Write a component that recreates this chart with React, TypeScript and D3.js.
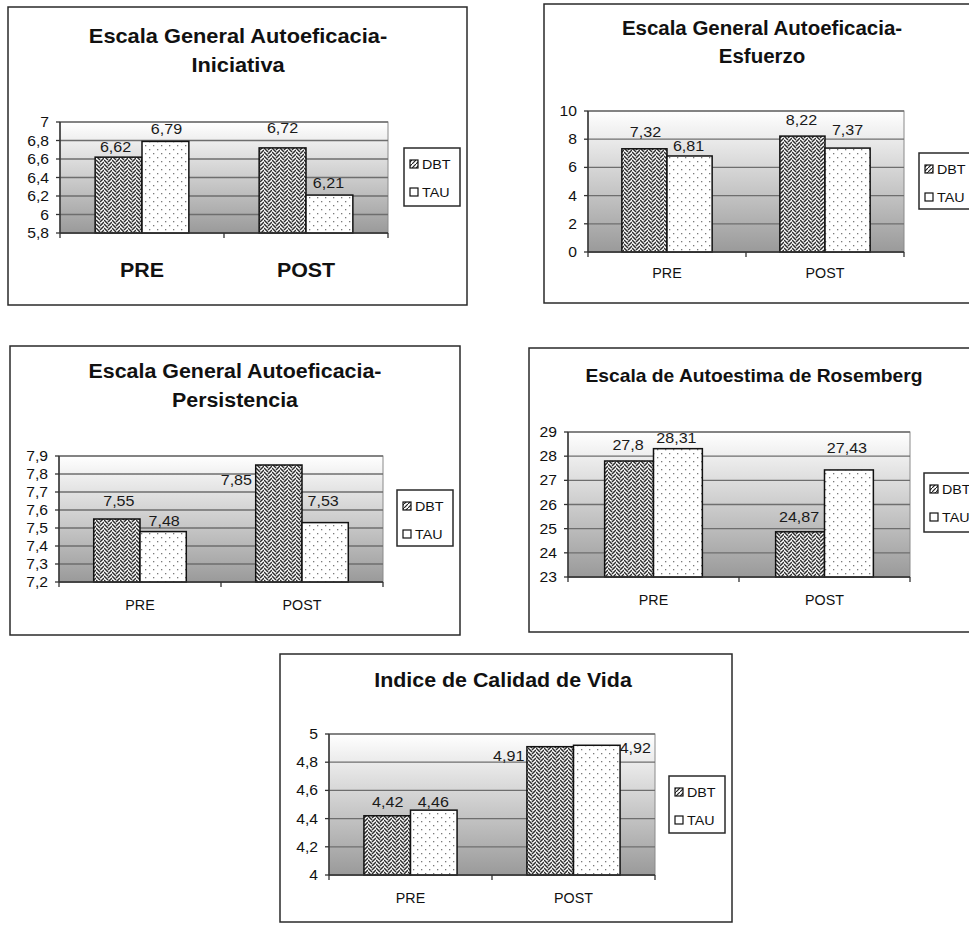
import React from "react";
import * as d3 from "d3";

// ---- data ----
const categories = ["PRE", "POST"];
const seriesNames = ["DBT", "TAU"];

const iniciativaDBT = [6.62, 6.72];
const iniciativaTAU = [6.79, 6.21];
const iniciativaTicks = [5.8, 6, 6.2, 6.4, 6.6, 6.8, 7];

const esfuerzoDBT = [7.32, 8.22];
const esfuerzoTAU = [6.81, 7.37];
const esfuerzoTicks = [0, 2, 4, 6, 8, 10];

const persistenciaDBT = [7.55, 7.85];
const persistenciaTAU = [7.48, 7.53];
const persistenciaTicks = [7.2, 7.3, 7.4, 7.5, 7.6, 7.7, 7.8, 7.9];

const rosembergDBT = [27.8, 24.87];
const rosembergTAU = [28.31, 27.43];
const rosembergTicks = [23, 24, 25, 26, 27, 28, 29];

const calidadDBT = [4.42, 4.91];
const calidadTAU = [4.46, 4.92];
const calidadTicks = [4, 4.2, 4.4, 4.6, 4.8, 5];

const titles = [
  ["Escala General Autoeficacia-", "Iniciativa"],
  ["Escala General Autoeficacia-", "Esfuerzo"],
  ["Escala General Autoeficacia-", "Persistencia"],
  ["Escala de Autoestima de Rosemberg"],
  ["Indice de Calidad de Vida"],
];

// ---- layout ----
type Box = { x: number; y: number; w: number; h: number };
type Panel = {
  title: string[];
  dbt: number[];
  tau: number[];
  ticks: number[];
  frame: Box;
  plot: Box;
  legend: Box;
  titleX: number;
  titleY: number[];
  titleSize: number;
  titleSx: number;
  catY: number;
  catBold: boolean;
  // label offsets from bar top-center (dx, baseline dy) for DBT and TAU
  offDBT: [number, number][];
  offTAU: [number, number][];
};

const panels: Panel[] = [
  {
    title: titles[0], dbt: iniciativaDBT, tau: iniciativaTAU, ticks: iniciativaTicks,
    frame: { x: 8, y: 7, w: 459, h: 298 },
    plot: { x: 60, y: 122, w: 328, h: 111 },
    legend: { x: 404, y: 148, w: 56, h: 58 },
    titleX: 238, titleY: [43, 72], titleSize: 20, titleSx: 1.09,
    catY: 277, catBold: true,
    offDBT: [[-3, -5], [0, -15]],
    offTAU: [[1, -7], [-1, -7]],
  },
  {
    title: titles[1], dbt: esfuerzoDBT, tau: esfuerzoTAU, ticks: esfuerzoTicks,
    frame: { x: 544, y: 4, w: 440, h: 299 },
    plot: { x: 588, y: 111, w: 316, h: 141 },
    legend: { x: 919, y: 153, w: 60, h: 56 },
    titleX: 762, titleY: [35, 63], titleSize: 19.5, titleSx: 1.05,
    catY: 278, catBold: false,
    offDBT: [[1, -12], [-1, -11]],
    offTAU: [[-1, -5], [0, -13]],
  },
  {
    title: titles[2], dbt: persistenciaDBT, tau: persistenciaTAU, ticks: persistenciaTicks,
    frame: { x: 10, y: 346, w: 450, h: 289 },
    plot: { x: 59, y: 456, w: 324, h: 126 },
    legend: { x: 397, y: 490, w: 56, h: 56 },
    titleX: 235, titleY: [378, 407], titleSize: 20, titleSx: 1.07,
    catY: 610, catBold: false,
    offDBT: [[2, -13], [-42.5, 20]],
    offTAU: [[1, -6], [-2, -17]],
  },
  {
    title: titles[3], dbt: rosembergDBT, tau: rosembergTAU, ticks: rosembergTicks,
    frame: { x: 529, y: 348, w: 450, h: 284 },
    plot: { x: 568, y: 432, w: 342, h: 145 },
    legend: { x: 924, y: 473, w: 60, h: 59 },
    titleX: 754, titleY: [382], titleSize: 18.5, titleSx: 1.04,
    catY: 605, catBold: false,
    offDBT: [[-1, -11], [-1, -10]],
    offTAU: [[-1.5, -6], [-2, -17]],
  },
  {
    title: titles[4], dbt: calidadDBT, tau: calidadTAU, ticks: calidadTicks,
    frame: { x: 280, y: 654, w: 452, h: 268 },
    plot: { x: 329, y: 734, w: 326, h: 141 },
    legend: { x: 669, y: 776, w: 56, h: 57 },
    titleX: 503, titleY: [687], titleSize: 20, titleSx: 1.07,
    catY: 903, catBold: false,
    offDBT: [[0.5, -9], [-41.5, 14]],
    offTAU: [[-0.5, -3], [38.5, 8]],
  },
];

const FONT = "'Liberation Sans', Arial, Helvetica, sans-serif";

const locale = d3.formatLocale({
  decimal: ",",
  thousands: ".",
  grouping: [3],
  currency: ["", ""],
});
const fmt = locale.format(".2~f");

function SText(props: {
  x: number; y: number; sx?: number; size: number; weight?: string | number;
  anchor?: "start" | "middle" | "end"; fill?: string; children: React.ReactNode;
}) {
  const { x, y, sx = 1, size, weight = "normal", anchor = "start", fill = "#111", children } = props;
  return (
    <text
      transform={`translate(${x},${y}) scale(${sx},1)`}
      fontFamily={FONT}
      fontSize={size}
      fontWeight={weight}
      textAnchor={anchor}
      fill={fill}
    >
      {children}
    </text>
  );
}

function ChartPanel({ p, idx }: { p: Panel; idx: number }) {
  const { plot } = p;
  const [y0, y1] = d3.extent(p.ticks) as [number, number];
  const y = d3.scaleLinear().domain([y0, y1]).range([plot.y + plot.h, plot.y]);
  const x0 = d3.scaleBand<string>().domain(categories).range([plot.x, plot.x + plot.w]).padding(0);
  const x1 = d3.scaleBand<string>().domain(seriesNames).range([0, x0.bandwidth()])
    .paddingInner(0).paddingOuter(0.75);
  const gradId = `bg-grad-${idx}`;
  const seriesVals = [p.dbt, p.tau];
  const seriesFill = ["url(#weave)", "url(#dots)"];
  const offsets = [p.offDBT, p.offTAU];
  const bottom = plot.y + plot.h;

  return (
    <g>
      <defs>
        <linearGradient id={gradId} x1="0" y1="0" x2="0" y2="1">
          <stop offset="0" stopColor="#ffffff" />
          <stop offset="1" stopColor="#9a9a9a" />
        </linearGradient>
      </defs>
      {/* outer frame */}
      <rect x={p.frame.x} y={p.frame.y} width={p.frame.w} height={p.frame.h}
        fill="#fff" stroke="#2a2a2a" strokeWidth={1.5} />
      {/* title */}
      {p.title.map((t, i) => (
        <SText key={i} x={p.titleX} y={p.titleY[i]} size={p.titleSize} sx={p.titleSx}
          weight="bold" anchor="middle">{t}</SText>
      ))}
      {/* plot area */}
      <rect x={plot.x} y={plot.y} width={plot.w} height={plot.h}
        fill={`url(#${gradId})`} stroke="#8a8a8a" strokeWidth={1} />
      {p.ticks.map((t) => (
        <line key={`g${t}`} x1={plot.x} x2={plot.x + plot.w} y1={y(t)} y2={y(t)}
          stroke="#6e6e6e" strokeWidth={1.3} />
      ))}
      {/* bars */}
      {categories.map((c, ci) =>
        seriesNames.map((s, si) => {
          const v = seriesVals[si][ci];
          const bx = (x0(c) as number) + (x1(s) as number);
          return (
            <rect key={`${c}-${s}`} x={bx} y={y(v)} width={x1.bandwidth()}
              height={bottom - y(v)} fill={seriesFill[si]} stroke="#111" strokeWidth={1.5} />
          );
        })
      )}
      {/* value labels */}
      {categories.map((c, ci) =>
        seriesNames.map((s, si) => {
          const v = seriesVals[si][ci];
          const cx = (x0(c) as number) + (x1(s) as number) + x1.bandwidth() / 2;
          const [dx, dy] = offsets[si][ci];
          return (
            <SText key={`l${c}-${s}`} x={cx + dx} y={y(v) + dy} size={14} sx={1.15}
              anchor="middle" fill="#1a1a1a">{fmt(v)}</SText>
          );
        })
      )}
      {/* axes */}
      <line x1={plot.x} x2={plot.x} y1={plot.y} y2={bottom} stroke="#333" strokeWidth={1.5} />
      <line x1={plot.x} x2={plot.x + plot.w} y1={bottom} y2={bottom} stroke="#333" strokeWidth={1.5} />
      {p.ticks.map((t) => (
        <g key={`t${t}`}>
          <line x1={plot.x - 4} x2={plot.x} y1={y(t)} y2={y(t)} stroke="#333" strokeWidth={1.3} />
          <SText x={plot.x - 11} y={y(t) + 5} size={14} sx={1.12} anchor="end">{fmt(t)}</SText>
        </g>
      ))}
      {[plot.x, plot.x + plot.w / 2, plot.x + plot.w].map((tx, i) => (
        <line key={`ct${i}`} x1={tx} x2={tx} y1={bottom} y2={bottom + 5} stroke="#333" strokeWidth={1.3} />
      ))}
      {categories.map((c) => (
        <SText key={`c${c}`} x={(x0(c) as number) + x0.bandwidth() / 2} y={p.catY}
          size={p.catBold ? 20 : 14} sx={p.catBold ? 1.07 : 1.02}
          weight={p.catBold ? "bold" : "normal"} anchor="middle">{c}</SText>
      ))}
      {/* legend */}
      <rect x={p.legend.x} y={p.legend.y} width={p.legend.w} height={p.legend.h}
        fill="#fff" stroke="#2a2a2a" strokeWidth={1.5} />
      {seriesNames.map((s, si) => {
        const cy = p.legend.y + 16 + si * 28;
        return (
          <g key={`lg${s}`}>
            <rect x={p.legend.x + 6} y={cy - 4} width={8} height={8}
              fill={si === 0 ? "url(#weaveSmall)" : "#fff"} stroke="#111" strokeWidth={1.2} />
            <SText x={p.legend.x + 18} y={cy + 5} size={13} sx={1.1}>{s}</SText>
          </g>
        );
      })}
    </g>
  );
}

export default function App() {
  return (
    <svg width={969} height={927} viewBox="0 0 969 927"
      style={{ position: "absolute", left: 0, top: 0, background: "#fff" }}>
      <defs>
        {/* interlocking weave fill for DBT bars */}
        <pattern id="weave" width={8} height={8} patternUnits="userSpaceOnUse">
          <rect width={8} height={8} fill="#fff" />
          <path
            d="M0,-4 L4,0 M0,0 L4,4 M0,4 L4,8 M0,8 L4,12 M4,2 L8,-2 M4,6 L8,2 M4,10 L8,6"
            fill="none" stroke="#2e2e2e" strokeWidth={1.5} />
        </pattern>
        <pattern id="weaveSmall" width={4} height={4} patternUnits="userSpaceOnUse">
          <rect width={4} height={4} fill="#fff" />
          <path d="M0,4 L4,0" stroke="#222" strokeWidth={1.2} />
        </pattern>
        {/* sparse dot fill for TAU bars */}
        <pattern id="dots" width={8} height={8} patternUnits="userSpaceOnUse">
          <rect width={8} height={8} fill="#fff" />
          <rect x={1} y={1} width={1.3} height={1.3} fill="#7a7a7a" />
          <rect x={5} y={5} width={1.3} height={1.3} fill="#7a7a7a" />
        </pattern>
      </defs>
      <rect width={969} height={927} fill="#fff" />
      {panels.map((p, i) => (
        <ChartPanel key={i} p={p} idx={i} />
      ))}
    </svg>
  );
}
